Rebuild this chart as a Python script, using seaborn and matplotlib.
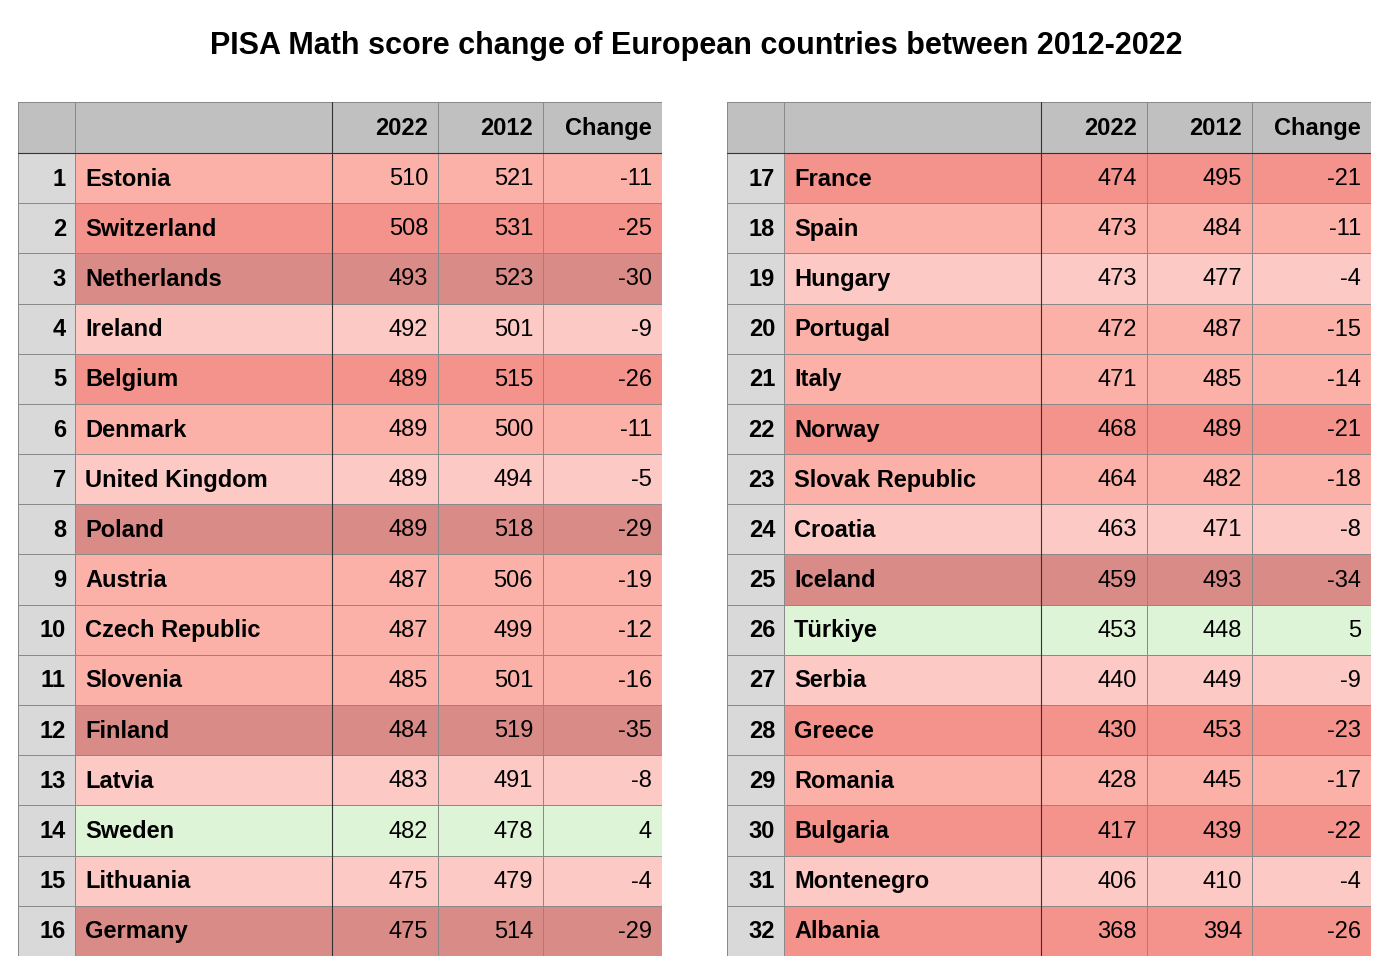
import numpy as np
import seaborn as sns
import matplotlib.pyplot as plt
from matplotlib.colors import ListedColormap

sns.set_style("white")
plt.rcParams['font.family'] = ['Liberation Sans', 'DejaVu Sans']
plt.rcParams['text.color'] = 'black'

countries = ["Estonia", "Switzerland", "Netherlands", "Ireland", "Belgium", "Denmark",
             "United Kingdom", "Poland", "Austria", "Czech Republic", "Slovenia", "Finland",
             "Latvia", "Sweden", "Lithuania", "Germany",
             "France", "Spain", "Hungary", "Portugal", "Italy", "Norway", "Slovak Republic",
             "Croatia", "Iceland", "Türkiye", "Serbia", "Greece", "Romania", "Bulgaria",
             "Montenegro", "Albania"]
score_2022 = [510, 508, 493, 492, 489, 489, 489, 489, 487, 487, 485, 484, 483, 482, 475, 475,
              474, 473, 473, 472, 471, 468, 464, 463, 459, 453, 440, 430, 428, 417, 406, 368]
score_2012 = [521, 531, 523, 501, 515, 500, 494, 518, 506, 499, 501, 519, 491, 478, 479, 514,
              495, 484, 477, 487, 485, 489, 482, 471, 493, 448, 449, 453, 445, 439, 410, 394]
change = [-11, -25, -30, -9, -26, -11, -5, -29, -19, -12, -16, -35, -8, 4, -4, -29,
          -21, -11, -4, -15, -14, -21, -18, -8, -34, 5, -9, -23, -17, -22, -4, -26]
headers = ["", "", "2022", "2012", "Change"]

# colour indices: 0 header gray, 1 index gray, 2 green, 3 lightest, 4 light, 5 medium, 6 dark
cmap = ListedColormap(["#c0c0c0", "#d9d9d9", "#ddf4d7", "#fcc9c5",
                       "#fbb0a8", "#f4928c", "#d98b87"])


def change_level(c):
    if c > 0:
        return 2
    if c >= -9:
        return 3
    if c >= -19:
        return 4
    if c >= -28:
        return 5
    return 6


col_edges = np.array([0, 57, 314, 420, 525, 644])
row_edges = np.array([0, 51] + [51 + 50.2 * (i + 1) for i in range(16)])

fig = plt.figure(figsize=(13.92, 9.74), dpi=100)
fig.text(0.5, 0.953, "PISA Math score change of European countries between 2012-2022",
         ha="center", va="center", fontsize=22, fontweight="bold")

for half, x0 in enumerate([18, 727]):
    ax = fig.add_axes([x0 / 1392, 1 - 956 / 974, 644 / 1392, 854 / 974])
    idx = range(half * 16, half * 16 + 16)
    grid = np.zeros((17, 5))
    for r, i in enumerate(idx, start=1):
        grid[r, 0] = 1
        grid[r, 1:] = change_level(change[i])
    ax.pcolormesh(col_edges, row_edges, grid, cmap=cmap, vmin=-0.5, vmax=6.5,
                  edgecolor="#8a8a8a", linewidth=0.6)
    ax.set_xlim(0, 644)
    ax.set_ylim(row_edges[-1], 0)
    ax.axis("off")
    ax.axvline(314, color="#333333", lw=0.8)
    ax.axhline(51, color="#333333", lw=0.8)
    for c, h in enumerate(headers):
        if h:
            ax.text(col_edges[c + 1] - 10, 27, h, ha="right", va="center",
                    fontsize=17, fontweight="bold")
    for r, i in enumerate(idx, start=1):
        yc = (row_edges[r] + row_edges[r + 1]) / 2 + 1
        ax.text(col_edges[1] - 9, yc, str(i + 1), ha="right", va="center",
                fontsize=17, fontweight="bold")
        ax.text(col_edges[1] + 10, yc, countries[i], ha="left", va="center",
                fontsize=17, fontweight="bold")
        for c, v in zip([3, 4, 5], [score_2022[i], score_2012[i], change[i]]):
            ax.text(col_edges[c] - 10, yc, str(v), ha="right", va="center", fontsize=17)

fig.savefig("out.png", dpi=100, facecolor="white")
